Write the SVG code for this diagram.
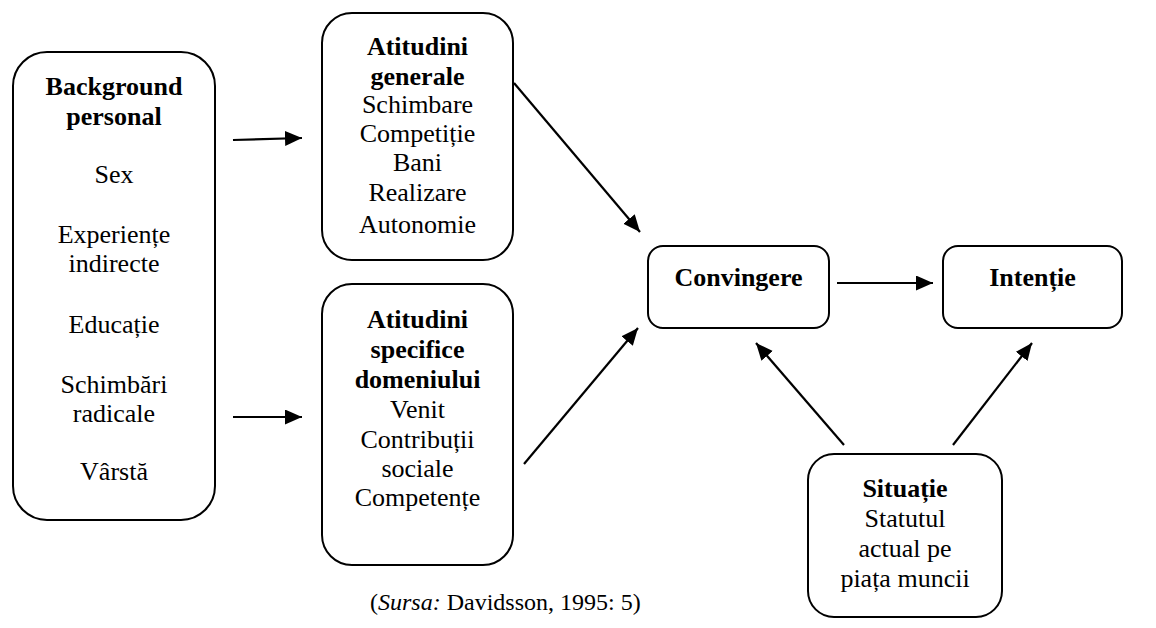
<svg xmlns="http://www.w3.org/2000/svg" width="1156" height="628" viewBox="0 0 1156 628">
<style>
.box{fill:#fff;stroke:#000;stroke-width:2}
text{font-family:"Liberation Serif","Times New Roman",serif;font-size:26px;fill:#000;text-anchor:middle}
.b{font-weight:bold}
.conn line{stroke:#000;stroke-width:2.2;marker-end:url(#ah)}
</style>
<defs>
<marker id="ah" markerUnits="userSpaceOnUse" markerWidth="18" markerHeight="16" refX="17" refY="7.5" orient="auto">
<path d="M0,0 L17,7.5 L0,15 z" fill="#000"/>
</marker>
</defs>
<rect width="1156" height="628" fill="#fff"/>
<g id="background">
<rect class="box" x="13" y="52" width="202" height="468" rx="34"/>
<text x="114" y="95" class="b">Background</text>
<text x="114" y="125" class="b">personal</text>
<text x="114" y="183">Sex</text>
<text x="114" y="243">Experiențe</text>
<text x="114" y="272">indirecte</text>
<text x="114" y="333">Educație</text>
<text x="114" y="393">Schimbări</text>
<text x="114" y="422">radicale</text>
<text x="114" y="480">Vârstă</text>
</g>
<g id="atitudini-generale">
<rect class="box" x="322" y="13" width="191" height="247" rx="30"/>
<text x="417.5" y="55" class="b">Atitudini</text>
<text x="417.5" y="84.5" class="b">generale</text>
<text x="417.5" y="113">Schimbare</text>
<text x="417.5" y="142">Competiție</text>
<text x="417.5" y="171">Bani</text>
<text x="417.5" y="201">Realizare</text>
<text x="417.5" y="233">Autonomie</text>
</g>
<g id="atitudini-specifice">
<rect class="box" x="322" y="284" width="191" height="281" rx="30"/>
<text x="417.5" y="328" class="b">Atitudini</text>
<text x="417.5" y="358" class="b">specifice</text>
<text x="417.5" y="388" class="b">domeniului</text>
<text x="417.5" y="418">Venit</text>
<text x="417.5" y="448">Contribuții</text>
<text x="417.5" y="477">sociale</text>
<text x="417.5" y="506">Competențe</text>
</g>
<g id="convingere">
<rect class="box" x="648" y="246" width="181" height="82" rx="15"/>
<text x="738.5" y="286" class="b">Convingere</text>
</g>
<g id="intentie">
<rect class="box" x="943" y="246" width="179" height="82" rx="15"/>
<text x="1032.5" y="286" class="b">Intenție</text>
</g>
<g id="situatie">
<rect class="box" x="808" y="454" width="194" height="163" rx="26"/>
<text x="905" y="497" class="b">Situație</text>
<text x="905" y="527">Statutul</text>
<text x="905" y="557">actual pe</text>
<text x="905" y="587">piața muncii</text>
</g>
<g id="connectors" class="conn">
<line x1="233" y1="140" x2="302" y2="138"/>
<line x1="233" y1="417" x2="302" y2="417"/>
<line x1="514" y1="83" x2="640" y2="232"/>
<line x1="524" y1="464" x2="638" y2="328"/>
<line x1="837" y1="283" x2="933" y2="283"/>
<line x1="844" y1="445" x2="756" y2="343"/>
<line x1="953" y1="445" x2="1032" y2="343"/>
</g>
<g id="caption">
<text x="370" y="610" style="text-anchor:start;font-size:24px">(<tspan font-style="italic">Sursa:</tspan> Davidsson, 1995: 5)</text>
</g>
</svg>
